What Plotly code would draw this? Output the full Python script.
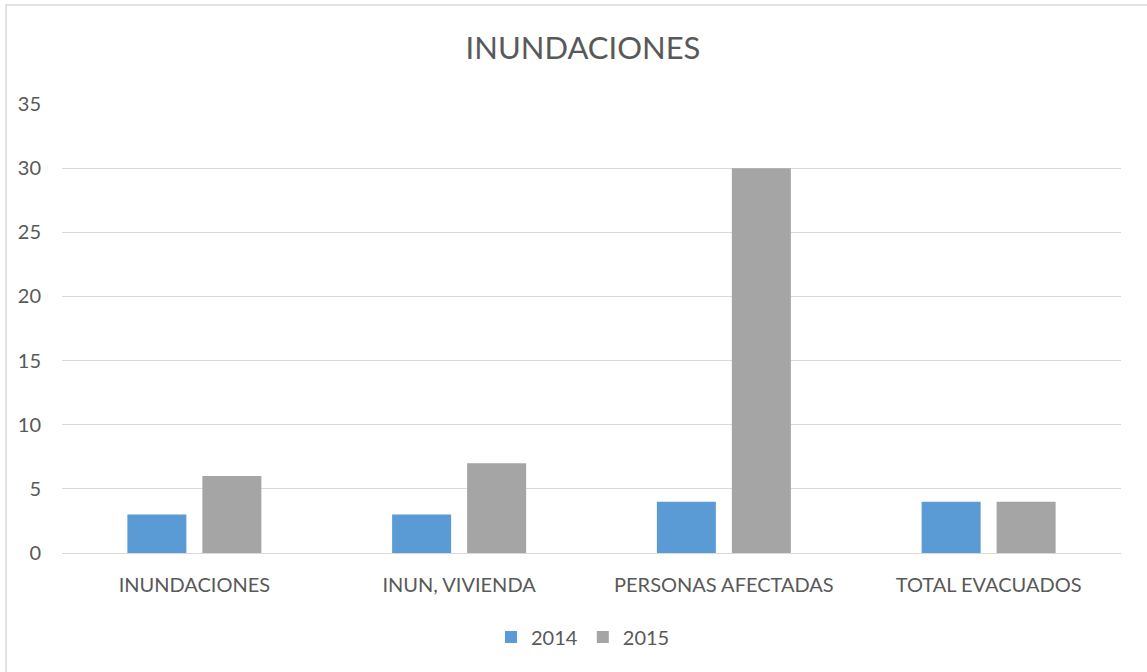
import plotly.graph_objects as go

categories = ["INUNDACIONES", "INUN, VIVIENDA", "PERSONAS AFECTADAS", "TOTAL EVACUADOS"]
series_2014 = [3, 3, 4, 4]
series_2015 = [6, 7, 30, 4]
y_ticks = [0, 5, 10, 15, 20, 25, 30, 35]

FONT = "Lato"
TXT = "#595959"
W, H = 1147, 672
L, R, T, B = 62, 26, 104, 119
pw = W - L - R
ph = H - T - B

fig = go.Figure()
fig.add_trace(go.Bar(name="2014", x=categories, y=series_2014, marker=dict(color="#5B9BD5", line=dict(width=0))))
fig.add_trace(go.Bar(name="2015", x=categories, y=series_2015, marker=dict(color="#A5A5A5", line=dict(width=0))))

fig.update_layout(
    width=W, height=H,
    margin=dict(l=L, r=R, t=T, b=B),
    paper_bgcolor="white", plot_bgcolor="white",
    barmode="group", bargap=0.4334, bargroupgap=0.2133,
    font=dict(family=FONT, color=TXT),
    title=dict(text="INUNDACIONES", font=dict(family=FONT, size=31, color=TXT),
               x=583 / W, xanchor="center", y=1 - 48 / H, yanchor="middle"),
    xaxis=dict(showgrid=False, showline=False, ticks="", tickfont=dict(size=20, color=TXT),
               ticklabelstandoff=18, zeroline=False),
    yaxis=dict(range=[0, 35], tickvals=y_ticks, showgrid=True, gridcolor="#D9D9D9", gridwidth=1,
               zeroline=True, zerolinecolor="#D9D9D9", zerolinewidth=1, showline=False, ticks="",
               tickfont=dict(size=20, color=TXT), ticklabelstandoff=20),
    legend=dict(orientation="h", x=(583 - L) / pw, xanchor="center", y=(553 - 637) / ph, yanchor="middle",
                font=dict(size=20, color=TXT), traceorder="normal"),
    shapes=[dict(type="rect", xref="paper", yref="paper",
                 x0=(6 - L) / pw, x1=(W + 10 - L) / pw, y0=(553 - H - 10) / ph, y1=(553 - 5) / ph,
                 line=dict(color="#D9D9D9", width=1.5), fillcolor="rgba(0,0,0,0)", layer="below")],
)

fig.write_html("out.html", config={"displayModeBar": False})
with open("out.html", encoding="utf-8") as f:
    html = f.read()
html = html.replace("<body>", '<body style="margin:0;padding:0;overflow:hidden">', 1)
with open("out.html", "w", encoding="utf-8") as f:
    f.write(html)
